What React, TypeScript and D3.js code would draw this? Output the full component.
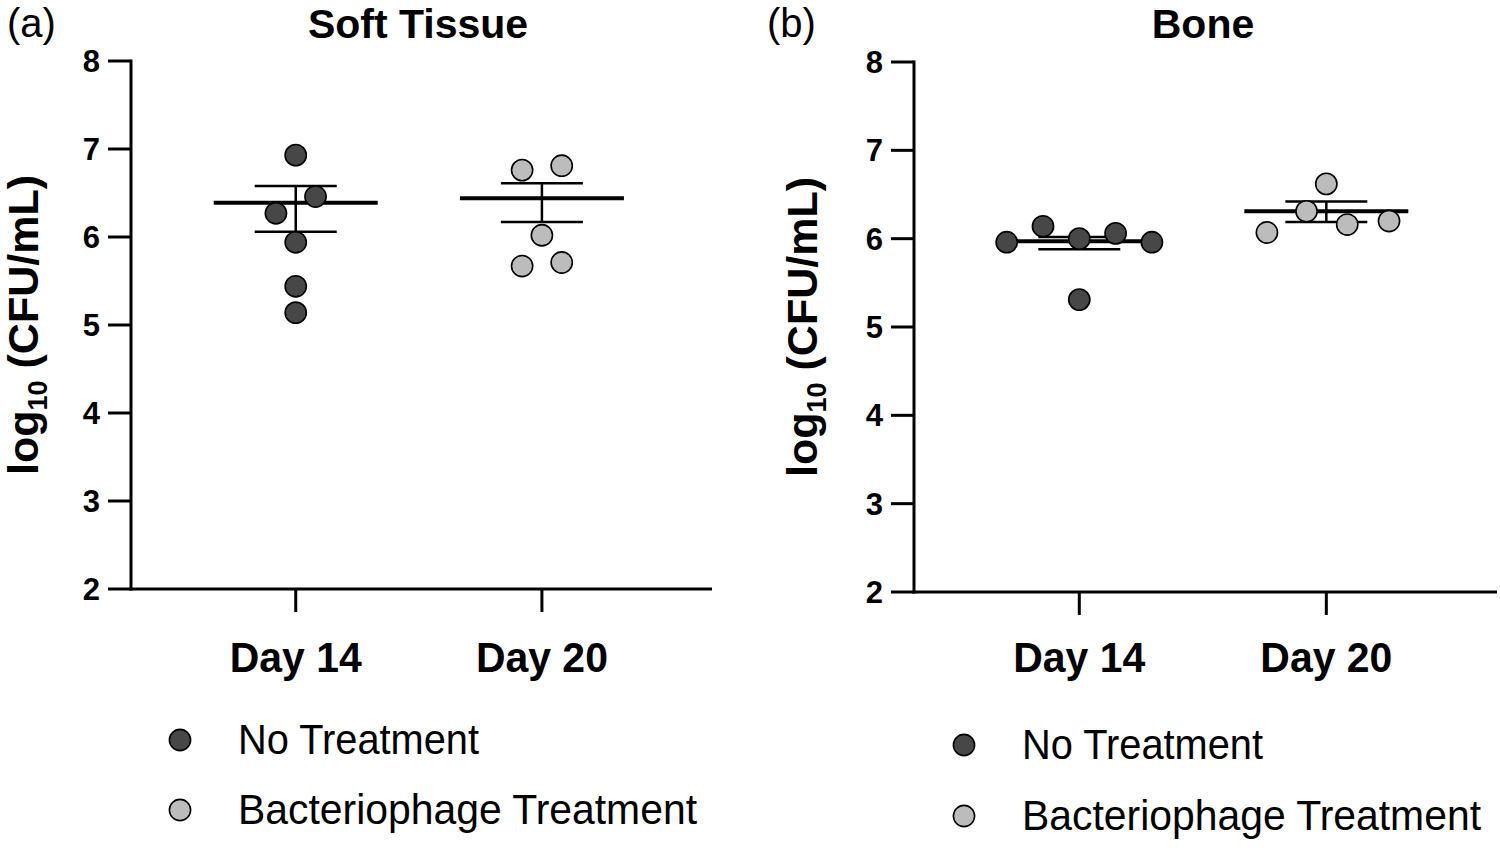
import React from "react";
import * as d3 from "d3";

// ---------- data ----------
const categories = ["Day 14", "Day 20"];
const yTicks = [2, 3, 4, 5, 6, 7, 8];
const seriesNames = ["No Treatment", "Bacteriophage Treatment"];

// Soft tissue: individual log10 CFU/mL values
const softDay14 = [6.93, 6.46, 6.27, 5.94, 5.44, 5.14];
const softDay20 = [6.76, 6.81, 6.02, 5.67, 5.71];
const softMean = [6.39, 6.44];
const softUpper = [6.58, 6.61];
const softLower = [6.06, 6.17];

// Bone
const boneDay14 = [5.96, 6.14, 6.0, 6.06, 5.96, 5.31];
const boneDay20 = [6.07, 6.31, 6.62, 6.16, 6.2];
const boneMean = [5.97, 6.31];
const boneUpper = [6.02, 6.42];
const boneLower = [5.88, 6.19];

// scatter spread (in dot diameters) for overlapping points
const softJitter14 = [0, 0.9, -0.9, 0, 0, 0];
const softJitter20 = [-0.9, 0.9, 0, -0.9, 0.9];
const boneJitter14 = [-3.3, -1.65, 0, 1.65, 3.3, 0];
const boneJitter20 = [-2.7, -0.9, 0, 0.95, 2.85];

// ---------- styles ----------
const FONT = "'Liberation Sans', Arial, Helvetica, sans-serif";
const COLORS = ["#474747", "#bcbcbc"];
const R = 10.6;
const DIAM = 22;
const LEGEND_LEN = [241, 459];

type PanelProps = {
  letter: string;
  title: string;
  titleX: number;
  left: number;
  right: number;
  top: number;
  bottom: number;
  groups: number[][];
  jitters: number[][];
  mean: number[];
  upper: number[];
  lower: number[];
  legendX: number;
  legendY: number[];
  letterX: number;
  labelX: number;
};

function Panel(p: PanelProps) {
  const x = d3
    .scalePoint<string>()
    .domain(categories)
    .range([p.left, p.right])
    .padding(0.68)
    .align(0.492);
  const y = d3.scaleLinear().domain([2, 8]).range([p.bottom, p.top]);
  const midY = (p.top + p.bottom) / 2;
  return (
    <g>
      <text x={p.letterX} y={37} fontFamily={FONT} fontSize={40} fill="#000">
        ({p.letter})
      </text>
      <text x={p.titleX} y={38} fontFamily={FONT} fontSize={41} fontWeight="bold" textAnchor="middle">
        {p.title}
      </text>

      {/* y label */}
      <text
        transform={`translate(${p.labelX},${midY}) rotate(-90)`}
        fontFamily={FONT}
        fontSize={43}
        fontWeight="bold"
        textAnchor="middle"
      >
        log
        <tspan dy={9} fontSize={27}>10</tspan>
        <tspan dy={-9}> (CFU/mL)</tspan>
      </text>

      {/* axes */}
      <line x1={p.left} x2={p.left} y1={p.top - 1.5} y2={p.bottom + 1.5} stroke="#000" strokeWidth={3} />
      <line x1={p.left - 1.5} x2={p.right} y1={p.bottom} y2={p.bottom} stroke="#000" strokeWidth={3} />
      {yTicks.map((t) => (
        <g key={t}>
          <line x1={p.left - 23} x2={p.left} y1={y(t)} y2={y(t)} stroke="#000" strokeWidth={3} />
          <text
            x={p.left - 31}
            y={y(t)}
            dy="0.36em"
            textAnchor="end"
            fontFamily={FONT}
            fontSize={31}
            fontWeight="bold"
          >
            {t}
          </text>
        </g>
      ))}
      {categories.map((c) => (
        <g key={c}>
          <line x1={x(c)} x2={x(c)} y1={p.bottom} y2={p.bottom + 23} stroke="#000" strokeWidth={3} />
          <text
            x={x(c)}
            y={672}
            textAnchor="middle"
            fontFamily={FONT}
            fontSize={42}
            fontWeight="bold"
            textLength={132}
            lengthAdjust="spacingAndGlyphs"
          >
            {c}
          </text>
        </g>
      ))}

      {/* mean and error bars */}
      {categories.map((c, i) => {
        const cx = x(c)!;
        return (
          <g key={"m" + c}>
            <line x1={cx} x2={cx} y1={y(p.upper[i])} y2={y(p.lower[i])} stroke="#000" strokeWidth={2.5} />
            <line x1={cx - 41} x2={cx + 41} y1={y(p.upper[i])} y2={y(p.upper[i])} stroke="#000" strokeWidth={2.5} />
            <line x1={cx - 41} x2={cx + 41} y1={y(p.lower[i])} y2={y(p.lower[i])} stroke="#000" strokeWidth={2.5} />
            <line x1={cx - 82} x2={cx + 82} y1={y(p.mean[i])} y2={y(p.mean[i])} stroke="#000" strokeWidth={4} />
          </g>
        );
      })}

      {/* points */}
      {categories.map((c, i) =>
        p.groups[i].map((v, j) => (
          <circle
            key={c + j}
            cx={x(c)! + p.jitters[i][j] * DIAM}
            cy={y(v)}
            r={R}
            fill={COLORS[i]}
            stroke="#000"
            strokeWidth={1.6}
          />
        ))
      )}

      {/* legend */}
      {seriesNames.map((s, i) => (
        <g key={s}>
          <circle cx={p.legendX} cy={p.legendY[i]} r={R} fill={COLORS[i]} stroke="#000" strokeWidth={1.6} />
          <text
            x={p.legendX + 58}
            y={p.legendY[i] + 14}
            fontFamily={FONT}
            fontSize={42}
            textLength={LEGEND_LEN[i]}
            lengthAdjust="spacingAndGlyphs"
          >
            {s}
          </text>
        </g>
      ))}
    </g>
  );
}

export default function App() {
  return (
    <svg
      width={1500}
      height={848}
      viewBox="0 0 1500 848"
      style={{ position: "absolute", left: 0, top: 0, background: "#fff" }}
    >
      <rect x={0} y={0} width={1500} height={848} fill="#fff" />
      <Panel
        letter="a"
        title="Soft Tissue"
        titleX={418}
        left={131}
        right={712}
        top={61}
        bottom={589}
        groups={[softDay14, softDay20]}
        jitters={[softJitter14, softJitter20]}
        mean={softMean}
        upper={softUpper}
        lower={softLower}
        legendX={180}
        legendY={[740, 810]}
        letterX={7}
        labelX={38}
      />
      <Panel
        letter="b"
        title="Bone"
        titleX={1203}
        left={914}
        right={1497}
        top={62}
        bottom={592}
        groups={[boneDay14, boneDay20]}
        jitters={[boneJitter14, boneJitter20]}
        mean={boneMean}
        upper={boneUpper}
        lower={boneLower}
        legendX={964}
        legendY={[745, 816]}
        letterX={767}
        labelX={817}
      />
    </svg>
  );
}
